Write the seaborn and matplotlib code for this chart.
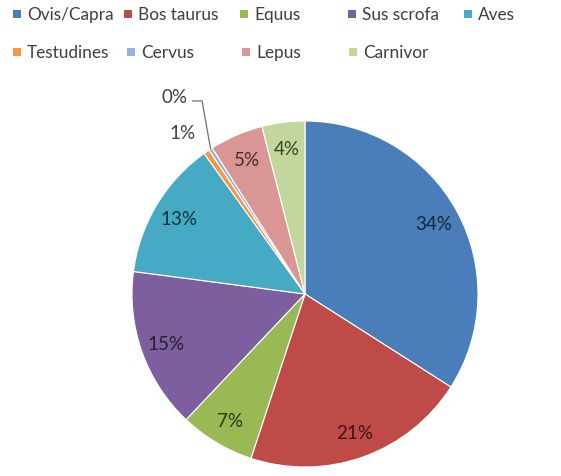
import numpy as np
import matplotlib
matplotlib.use("Agg")
import matplotlib.pyplot as plt
import seaborn as sns
from matplotlib.patches import Rectangle

categories = ["Ovis/Capra", "Bos taurus", "Equus", "Sus scrofa", "Aves",
              "Testudines", "Cervus", "Lepus", "Carnivor"]
values = [34, 21, 7, 15, 13, 0.55, 0.35, 5, 4]
colors_hex = ["#4A7EBB", "#BE4B48", "#98B954", "#7D5FA0", "#46AAC5",
              "#F79646", "#95B3D7", "#D99694", "#C3D69B"]

sns.set_theme(style="white")
plt.rcParams['font.family'] = ['Lato', 'DejaVu Sans']
palette = sns.color_palette(colors_hex)

W, H = 561, 477
fig = plt.figure(figsize=(W / 100, H / 100), dpi=100)
cx, cy, R = 305, 295, 173
ax = fig.add_axes([(cx - R) / W, (H - cy - R) / H, 2 * R / W, 2 * R / H])

wedges, _ = ax.pie(values, colors=palette, startangle=90, counterclock=False,
                   radius=1, wedgeprops=dict(edgecolor="white", linewidth=0.8))
ax.set_xlim(-1, 1)
ax.set_ylim(-1, 1)
ax.set_aspect("equal")
ax.axis("off")

total = sum(values)
fs = 13.5
for i, (w, v) in enumerate(zip(wedges, values)):
    ang = np.deg2rad((w.theta1 + w.theta2) / 2)
    lab = f"{v / total * 100:.0f}%"
    if v >= 2:
        d = 0.85
        col = tuple(np.array(palette[i]) * 0.3)
        ax.text(d * np.cos(ang), d * np.sin(ang), lab, ha="center", va="center",
                fontsize=fs, color=col)
    elif i == 5:
        d = 1.17
        a2 = ang + np.deg2rad(2.5)
        ax.text(d * np.cos(a2), d * np.sin(a2), lab, ha="center", va="center",
                fontsize=fs, color="#404040", clip_on=False)
    else:
        ex, ey = np.cos(ang), np.sin(ang)
        ax.plot([ex, -0.595, -0.650], [ey, 1.116, 1.116], color="#707070",
                lw=0.9, clip_on=False)
        ax.text(-0.755, 1.140, lab, ha="center", va="center", fontsize=fs,
                color="#404040", clip_on=False)

# legend: 5 columns, 2 rows
col_x = [[13, 124, 240, 348, 464], [13, 127, 242, 349]]
row_y = [15, 53]
sq = 8
k = 0
for r, xs in enumerate(col_x):
    for x in xs:
        y = row_y[r]
        fig.add_artist(Rectangle((x / W, 1 - (y + sq / 2) / H), sq / W, sq / H,
                                 transform=fig.transFigure, facecolor=palette[k],
                                 edgecolor="none"))
        fig.text((x + 14) / W, 1 - y / H, categories[k], ha="left", va="center",
                 fontsize=12.4, color="#3F3F3F")
        k += 1

fig.savefig("out.png", dpi=100, facecolor="white")
